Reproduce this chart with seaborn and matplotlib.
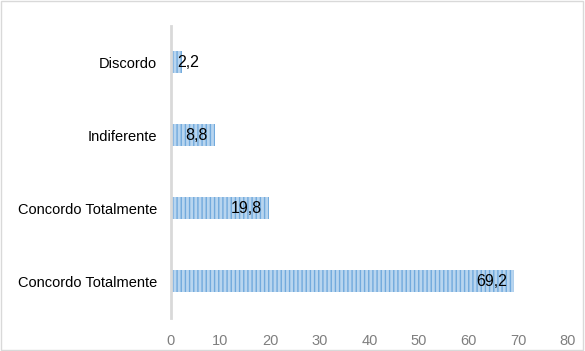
import pandas as pd
import seaborn as sns
import matplotlib.pyplot as plt
from matplotlib.patches import Rectangle

# data (top to bottom)
labels = ['Discordo', 'Indiferente', 'Concordo Totalmente', 'Concordo Totalmente']
values = [2.2, 8.8, 19.8, 69.2]
value_text = ['2,2', '8,8', '19,8', '69,2']
x_ticks = [0, 10, 20, 30, 40, 50, 60, 70, 80]

# unique keys so the two identical labels stay separate bars
data = pd.DataFrame({'key': [f'k{i}' for i in range(len(labels))], 'value': values})

sns.set_style('white')
plt.rcParams['font.family'] = ['Liberation Sans', 'DejaVu Sans']
plt.rcParams['hatch.linewidth'] = 1.0

fig = plt.figure(figsize=(5.85, 3.51), dpi=100)
ax = fig.add_axes([0.292, 0.095, 0.679, 0.832])

sns.barplot(data=data, x='value', y='key', orient='h', width=0.3,
            color='#B8D5EF', saturation=1, ax=ax)

for bar in ax.patches:
    bar.set_hatch('||||')
    bar.set_edgecolor('#72AADD')
    bar.set_linewidth(0)

# value labels at inside end
for i, (v, t) in enumerate(zip(values, value_text)):
    if v < 5:
        ax.annotate(t, (v, i), xytext=(-3, 0), textcoords='offset points',
                    ha='left', va='center', fontsize=11.5, color='black')
    else:
        ax.annotate(t, (v, i), xytext=(-5, 0), textcoords='offset points',
                    ha='right', va='center', fontsize=11.5, color='black')

ax.set_xlim(0, 80)
ax.set_ylim(3.5, -0.5)
ax.set_xticks(x_ticks)
ax.set_xticklabels([str(x) for x in x_ticks], color='#7F7F7F', fontsize=10.5)
ax.set_yticks(range(len(labels)))
ax.set_yticklabels(labels, fontsize=10.5, color='black')
ax.set_xlabel('')
ax.set_ylabel('')
ax.tick_params(axis='both', length=0)
ax.tick_params(axis='x', pad=12)
ax.tick_params(axis='y', pad=10)

sns.despine(ax=ax, top=True, right=True, bottom=True, left=False)
ax.spines['left'].set_color('#D9D9D9')
ax.spines['left'].set_linewidth(2)

# light frame around the whole chart
fig.patches.append(Rectangle((0.002, 0.003), 0.995, 0.993, transform=fig.transFigure,
                             fill=False, edgecolor='#D9D9D9', linewidth=1))

fig.savefig('out.png', dpi=100)
